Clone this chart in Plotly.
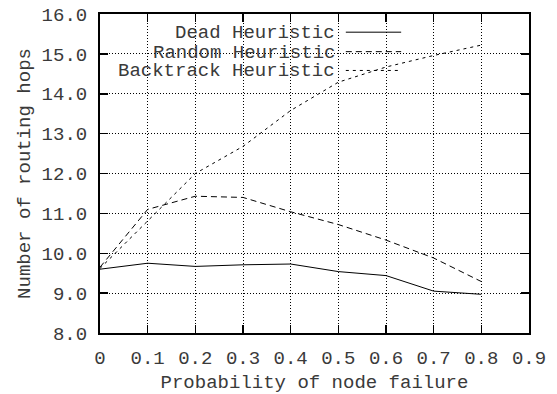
import plotly.graph_objects as go

# ---- data ----
x_vals = [0.0, 0.1, 0.2, 0.3, 0.4, 0.5, 0.6, 0.7, 0.8]
dead = [9.60, 9.75, 9.67, 9.71, 9.73, 9.54, 9.44, 9.05, 8.97]
random_h = [9.65, 11.10, 11.43, 11.40, 11.04, 10.72, 10.33, 9.88, 9.29]
backtrack = [9.62, 10.80, 12.00, 12.68, 13.58, 14.29, 14.67, 14.96, 15.22]

series_names = ["Dead Heuristic", "Random Heuristic", "Backtrack Heuristic"]
series_values = [dead, random_h, backtrack]
series_dash = ["solid", "6px,4px", "3px,4px"]

x_tick_vals = [0.0, 0.1, 0.2, 0.3, 0.4, 0.5, 0.6, 0.7, 0.8, 0.9]
x_tick_text = ["0", "0.1", "0.2", "0.3", "0.4", "0.5", "0.6", "0.7", "0.8", "0.9"]
y_tick_vals = [8, 9, 10, 11, 12, 13, 14, 15, 16]
y_tick_text = ["8.0", "9.0", "10.0", "11.0", "12.0", "13.0", "14.0", "15.0", "16.0"]

FONT = "Liberation Mono"
TXT = "#3a3a3a"

fig = go.Figure()
for name, vals, dash in zip(series_names, series_values, series_dash):
    fig.add_trace(go.Scatter(
        x=x_vals, y=vals, mode="lines", name=name, showlegend=False,
        line=dict(color="black", width=1, dash=dash),
    ))

# white box behind the key, hiding the grid (between grid and traces)
fig.add_shape(type="rect", xref="paper", yref="paper", x0=0.003, x1=0.723, y0=0.79, y1=0.995,
              fillcolor="white", line=dict(width=0), layer="between")

# key: right-aligned text with line sample to the right
key_rows_y = [0.940, 0.879, 0.820]
for name, dash, ry in zip(series_names, series_dash, key_rows_y):
    fig.add_annotation(x=0.552, y=ry, xref="paper", yref="paper", text=name, showarrow=False,
                       xanchor="right", yanchor="middle", font=dict(family=FONT, size=19, color=TXT))
    fig.add_shape(type="line", xref="paper", yref="paper", x0=0.573, x1=0.702, y0=ry + 0.003, y1=ry + 0.003,
                  line=dict(color="black", width=1, dash=dash), layer="above")

axis_common = dict(
    showline=True, linecolor="black", linewidth=2, mirror="ticks",
    ticks="inside", ticklen=8, tickwidth=1.5, tickcolor="black",
    showgrid=True, gridcolor="black", gridwidth=1, griddash="1px,2px",
    zeroline=False, tickfont=dict(family=FONT, size=19, color=TXT),
    title_font=dict(family=FONT, size=19, color=TXT),
)

fig.update_xaxes(range=[0, 0.9], tickvals=x_tick_vals, ticktext=x_tick_text,
                 title_text="Probability of node failure", title_standoff=12,
                 ticklabelstandoff=6, **axis_common)
fig.update_yaxes(range=[8, 16], tickvals=y_tick_vals, ticktext=y_tick_text,
                 title_text="Number of routing hops", title_standoff=6,
                 ticklabelstandoff=7, **axis_common)

fig.update_layout(
    width=557, height=394,
    margin=dict(l=100, r=28, t=14, b=61, autoexpand=False),
    plot_bgcolor="white", paper_bgcolor="white",
    font=dict(family=FONT, size=19, color=TXT),
)

fig.write_html("out.html", config={"displayModeBar": False, "staticPlot": True},
               post_script="document.body.style.margin='0';document.body.style.overflow='hidden';")
